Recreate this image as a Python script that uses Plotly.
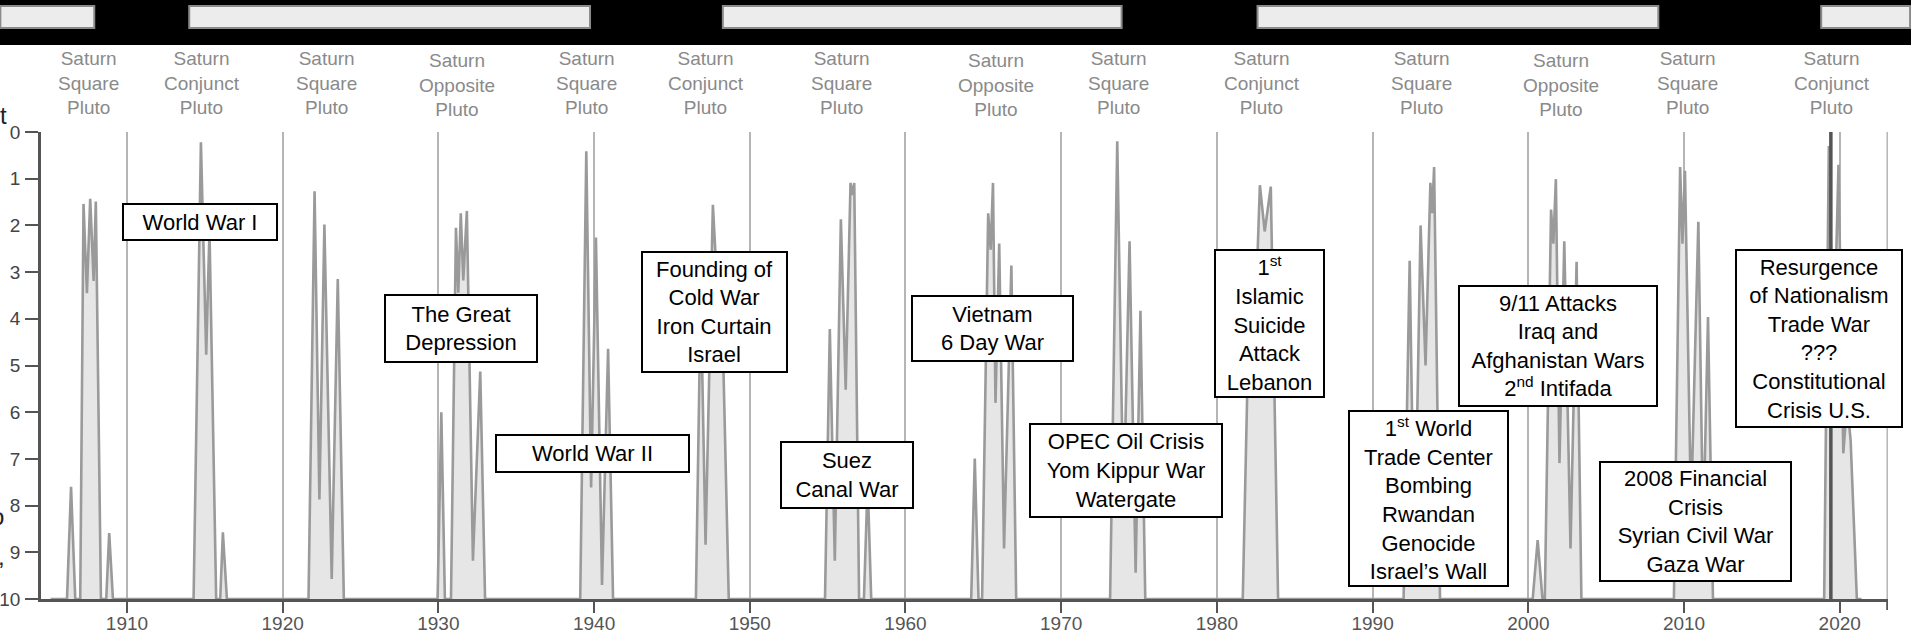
import plotly.graph_objects as go

# ---------------------------------------------------------------------------
# Saturn–Pluto cycle index: 0 = exact aspect, 10 = no aspect (key points)
# ---------------------------------------------------------------------------
YEARS = [
    1905.1,
    1906.15, 1906.41, 1906.68,
    1907.0, 1907.21, 1907.43, 1907.64, 1907.86, 1908.0, 1908.33,
    1908.67, 1908.86, 1909.1,
    1914.28, 1914.75, 1915.09, 1915.3, 1915.73,
    1915.99, 1916.16, 1916.42,
    1921.66, 1922.05, 1922.36, 1922.68, 1923.15, 1923.54, 1923.93,
    1929.95, 1930.19, 1930.42,
    1930.81, 1931.13, 1931.28, 1931.44, 1931.6, 1931.83, 1932.22, 1932.69, 1933.0,
    1939.11, 1939.5, 1939.81, 1940.12, 1940.51, 1940.9, 1941.22,
    1946.54, 1946.85, 1947.16, 1947.63, 1947.95, 1948.18, 1948.65,
    1954.83, 1955.14, 1955.46, 1955.85, 1956.16, 1956.47, 1956.59, 1956.71, 1957.02,
    1957.33, 1957.57, 1957.8,
    1964.22, 1964.45, 1964.69,
    1964.92, 1965.31, 1965.47, 1965.62, 1965.78, 1966.02, 1966.33, 1966.8, 1967.11,
    1973.14, 1973.6, 1974.0, 1974.39, 1974.78, 1975.09, 1975.4,
    1981.66, 1982.05, 1982.37, 1982.76, 1983.07, 1983.46, 1983.93,
    1991.99, 1992.38, 1992.69, 1993.08, 1993.4, 1993.71, 1993.83, 1993.95, 1994.33,
    2000.28, 2000.6, 2000.91,
    2001.06, 2001.46, 2001.61, 2001.77, 2002.0, 2002.31, 2002.71, 2003.1, 2003.41,
    2009.35, 2009.75, 2009.9, 2010.06, 2010.45, 2010.92, 2011.23, 2011.54, 2011.86,
    2019.0, 2019.3, 2019.6, 2019.92, 2020.23, 2020.47, 2020.7, 2021.1,
    2021.4,
]
LEVELS = [
    10,
    10, 7.6, 10,
    10, 1.54, 3.45, 1.43, 3.19, 1.49, 10,
    10, 8.59, 10,
    10, 0.22, 4.77, 2.1, 10,
    10, 8.57, 10,
    10, 1.27, 7.87, 1.98, 9.57, 3.15, 10,
    10, 6.0, 10,
    10, 2.05, 3.44, 1.74, 3.18, 1.69, 9.18, 5.13, 10,
    10, 0.41, 7.61, 2.26, 9.7, 4.64, 10,
    10, 3.44, 8.84, 1.56, 3.6, 3.2, 10,
    10, 4.22, 9.18, 1.87, 5.52, 1.09, 1.35, 1.09, 10,
    10, 7.5, 10,
    10, 6.99, 10,
    10, 1.74, 2.52, 1.09, 5.8, 2.39, 8.92, 2.86, 10,
    10, 0.2, 8.14, 2.34, 9.44, 3.83, 10,
    10, 4.0, 5.0, 1.14, 2.13, 1.17, 10,
    10, 2.76, 9.44, 2.0, 5.0, 1.09, 1.74, 0.75, 10,
    10, 8.74, 10,
    10, 1.66, 2.39, 1.01, 7.09, 2.34, 8.92, 2.78, 10,
    10, 0.75, 2.39, 0.83, 8.14, 1.92, 8.66, 3.96, 10,
    10, 0.3, 5.0, 0.7, 6.88, 5.8, 6.6, 10,
    10,
]

# exact conjunction marker
MARK_YEAR = 2019.43

# aspect headings
ASPECT_YEARS = [1907.5, 1914.8, 1922.83, 1931.2, 1939.5, 1947.16, 1955.92,
                1965.79, 1973.68, 1982.91, 1993.16, 2002.08, 2010.22, 2019.5]
ASPECTS = ["Square", "Conjunct", "Square", "Opposite", "Square", "Conjunct", "Square",
           "Opposite", "Square", "Conjunct", "Square", "Opposite", "Square", "Conjunct"]

# historical events
EVENTS = [
    "World War I",
    "The Great<br>Depression",
    "World War II",
    "Founding of<br>Cold War<br>Iron Curtain<br>Israel",
    "Suez<br>Canal War",
    "Vietnam<br>6 Day War",
    "OPEC Oil Crisis<br>Yom Kippur War<br>Watergate",
    "1<sup>st</sup><br>Islamic<br>Suicide<br>Attack<br>Lebanon",
    "1<sup>st</sup> World<br>Trade Center<br>Bombing<br>Rwandan<br>Genocide<br>Israel’s Wall",
    "9/11 Attacks<br>Iraq and<br>Afghanistan Wars<br>2<sup>nd</sup> Intifada",
    "2008 Financial<br>Crisis<br>Syrian Civil War<br>Gaza War",
    "Resurgence<br>of Nationalism<br>Trade War<br>???<br>Constitutional<br>Crisis U.S.",
]
EVENT_YEARS = [1914.70, 1931.46, 1939.90, 1947.73, 1956.23, 1965.57,
               1974.14, 1983.35, 1993.56, 2001.93, 2010.76, 2018.68]
EVENT_LEVELS = [1.93, 4.21, 6.88, 3.85, 7.34, 4.21, 7.25, 4.10, 7.85, 4.58, 8.34, 4.42]

# header period bars (start, end years)
BAR_SPANS = [(1901.87, 1907.9), (1914.0, 1939.74), (1948.27, 1973.88),
             (1982.61, 2008.35), (2018.81, 2024.52)]

TICK_YEARS = list(range(1910, 2021, 10))

# ---------------------------------------------------------------------------
X_RANGE = [1904.48, 2023.1]
X_END = 2023.05
FONT = "Arial, Liberation Sans, Helvetica, sans-serif"
BOX_W = [154, 152, 193, 145, 132, 161, 192, 109, 159, 198, 191, 166]
BOX_H = [36, 67, 37, 120, 66, 65, 93, 147, 175, 120, 119, 177]

W, H = 1911, 638
M_L, M_R, M_T, M_B = 41, 23, 132, 39
plot_w = W - M_L - M_R
plot_h = H - M_T - M_B


def px_to_paper_y(py):
    return (H - M_B - py) / plot_h


def px_to_paper_x(px):
    return (px - M_L) / plot_w


def year_to_frac(yr):
    return (yr - X_RANGE[0]) / (X_RANGE[1] - X_RANGE[0])


fig = go.Figure()

# baseline for the shaded area
fig.add_trace(go.Scatter(x=[YEARS[0], YEARS[-1]], y=[10, 10], mode="lines",
                         line=dict(width=0, color="rgba(0,0,0,0)"),
                         hoverinfo="skip", showlegend=False))
fig.add_trace(go.Scatter(x=YEARS, y=LEVELS, mode="lines",
                         line=dict(color="#9a9a9a", width=2.6),
                         fill="tonexty", fillcolor="#e6e6e6",
                         showlegend=False))
fig.add_trace(go.Scatter(x=[MARK_YEAR, MARK_YEAR], y=[0, 10], mode="lines",
                         line=dict(color="#555555", width=3.5),
                         showlegend=False))

shapes = []
# black header band
shapes.append(dict(type="rect", xref="paper", yref="paper",
                   x0=px_to_paper_x(-5), x1=px_to_paper_x(W + 5),
                   y0=px_to_paper_y(45), y1=px_to_paper_y(-5),
                   fillcolor="black", line=dict(width=0), layer="above"))
for a, b in BAR_SPANS:
    shapes.append(dict(type="rect", xref="x domain", yref="paper",
                       x0=year_to_frac(a), x1=year_to_frac(b),
                       y0=px_to_paper_y(28), y1=px_to_paper_y(6),
                       fillcolor="#ececec", line=dict(color="#8a8a8a", width=2),
                       layer="above"))
# closing gridline and tick at the right end of the time axis
shapes.append(dict(type="line", xref="x", yref="paper", x0=X_END, x1=X_END,
                   y0=0, y1=1, line=dict(color="#b5b5b5", width=1.5), layer="below"))
shapes.append(dict(type="line", xref="x", yref="paper", x0=X_END, x1=X_END,
                   y0=0, y1=px_to_paper_y(H - M_B + 11),
                   line=dict(color="#555555", width=2), layer="above"))

annotations = []
for yr, asp in zip(ASPECT_YEARS, ASPECTS):
    annotations.append(dict(
        x=yr, xref="x", y=px_to_paper_y(83), yref="paper",
        xanchor="center", yanchor="middle",
        text=f"Saturn<br>{asp}<br>Pluto", showarrow=False,
        font=dict(family=FONT, size=19, color="#8a8a8a"),
        align="center", yshift=-2 if asp == "Opposite" else 0))

for txt, yr, lv, bw, bh in zip(EVENTS, EVENT_YEARS, EVENT_LEVELS, BOX_W, BOX_H):
    annotations.append(dict(
        x=yr, xref="x", y=lv, yref="y", text=txt, showarrow=False,
        xanchor="center", yanchor="middle",
        font=dict(family=FONT, size=22, color="black"), align="center",
        bgcolor="white", bordercolor="black", borderwidth=2, borderpad=0,
        width=bw - 2, height=bh - 2, valign="middle"))

# clipped fragments of the left-hand caption
for txt, px, py in [("t", 3, 116), ("o", -3, 516), (",", 1, 556)]:
    annotations.append(dict(
        x=px_to_paper_x(px), xref="paper", y=px_to_paper_y(py), yref="paper",
        xanchor="center", yanchor="middle",
        text=txt, showarrow=False, font=dict(family=FONT, size=24, color="#222")))

fig.update_layout(
    width=W, height=H,
    margin=dict(l=M_L, r=M_R, t=M_T, b=M_B, pad=0, autoexpand=False),
    paper_bgcolor="white", plot_bgcolor="white",
    showlegend=False, shapes=shapes, annotations=annotations,
    font=dict(family=FONT),
)
fig.update_xaxes(
    range=X_RANGE, tickvals=TICK_YEARS,
    ticktext=[str(t) for t in TICK_YEARS],
    automargin=False,
    showgrid=True, gridcolor="#b5b5b5", gridwidth=1.5,
    showline=True, linecolor="#555555", linewidth=2.5,
    ticks="outside", ticklen=11, tickwidth=2, tickcolor="#555555",
    tickfont=dict(family=FONT, size=19, color="#555555"),
    ticklabelstandoff=-6,
    zeroline=False,
)
fig.update_yaxes(
    range=[10, 0], tickvals=list(range(11)),
    automargin=False,
    showgrid=False, showline=True, linecolor="#555555", linewidth=2.5,
    ticks="outside", ticklen=13, tickwidth=2, tickcolor="#555555",
    tickfont=dict(family=FONT, size=19, color="#444444"),
    ticklabelstandoff=1,
    zeroline=False,
)

fig.write_html("out.html")
